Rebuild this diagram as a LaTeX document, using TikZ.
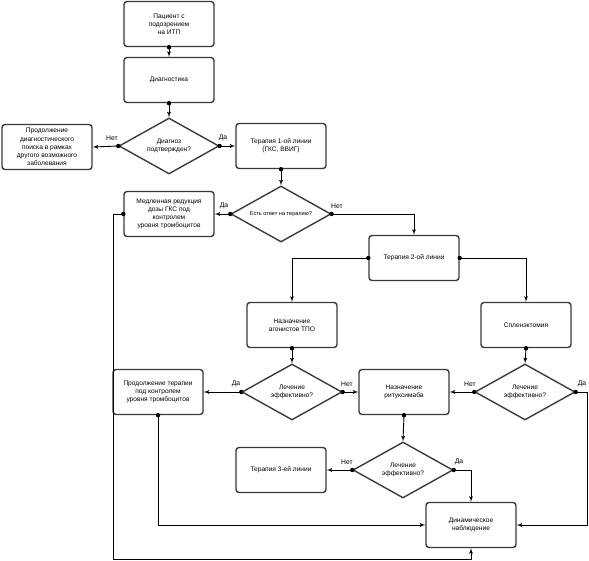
\documentclass[tikz,border=0pt]{standalone}
\usepackage{fontspec}
\setmainfont{Liberation Sans}
\usepackage{tikz}
\usetikzlibrary{arrows,shapes.geometric}
\definecolor{edge}{HTML}{3A3A3A}
\tikzstyle{line} = [draw, line width=0.9pt, -latex']
\tikzstyle{block} = [draw=edge, line width=1.4pt, rounded corners=3pt, minimum width=90pt, minimum height=45pt, align=center, inner sep=1pt, font=\fontsize{6.6}{8.2}\selectfont]
\tikzstyle{decision} = [draw=edge, line width=1.4pt, diamond, aspect=1.8, minimum width=100pt, minimum height=56pt, inner sep=0pt, align=center, font=\fontsize{6.6}{8.2}\selectfont]
\tikzstyle{answer} = [font=\fontsize{6.8}{8}\selectfont, inner sep=0pt]

\begin{document}
\begin{tikzpicture}[x=1pt,y=-1pt]
    \useasboundingbox (0,0) rectangle (589,561);

        \node[block] (pat) at (169, 24) {Пациент с\\подозрением\\на ИТП};
        \node[block] (diag) at (169, 80) {Диагностика};
        \node[decision] (q1) at (169, 146) {Диагноз\\подтвержден?};
        \node[block] (search) at (47, 147) {Продолжение\\диагностического\\поиска в рамках\\другого возможного\\заболевания};
        \node[block] (ther1) at (281, 146) {Терапия 1-ой линии\\(ГКС, ВВИГ)};
        \node[decision, font=\fontsize{5.6}{7}\selectfont] (q2) at (281, 214) {Есть ответ на терапию?};
        \node[block] (slow) at (169, 214) {Медленная редукция\\дозы ГКС под\\контролем\\уровня тромбоцитов};
        \node[block] (ther2) at (414, 258) {Терапия 2-ой линии};
        \node[block] (tpo) at (292, 325) {Назначение\\агонистов ТПО};
        \node[block] (splen) at (526, 325) {Спленэктомия};
        \node[decision] (q3) at (292, 392) {Лечение\\эффективно?};
        \node[block] (cont) at (158, 392) {Продолжение терапии\\под контролем\\уровня тромбоцитов};
        \node[block] (ritux) at (404, 392) {Назначение\\ритуксимаба};
        \node[decision] (q4) at (525, 392) {Лечение\\эффективно?};
        \node[decision] (q5) at (403, 470) {Лечение\\эффективно?};
        \node[block] (ther3) at (281, 470) {Терапия 3-ей линии};
        \node[block] (obs) at (471, 525) {Динамическое\\наблюдение};

        % answers
        \node[answer] (q1no) at (112, 138) {Нет};
        \node[answer] (q1yes) at (223, 138) {Да};
        \node[answer] (q2yes) at (224, 206) {Да};
        \node[answer] (q2no) at (337, 206) {Нет};
        \node[answer] (q3yes) at (236, 384) {Да};
        \node[answer] (q3no) at (347, 384) {Нет};
        \node[answer] (q4no) at (470, 384) {Нет};
        \node[answer] (q4yes) at (582, 384) {Да};
        \node[answer] (q5no) at (347, 462) {Нет};
        \node[answer] (q5yes) at (459, 462) {Да};

    \coordinate (q4r) at (587, 392);
    \coordinate (slowl) at (113, 214);
    \coordinate (bottom) at (113, 559);

    \path[line] (pat.south) -- (diag.north);
    \path[line] (diag.south) -- (q1.north);
    \path[line] (q1.west) -- (search.east);
    \path[line] (q1.east) -- (ther1.west);
    \path[line] (ther1.south) -- (q2.north);
    \path[line] (q2.west) -- (slow.east);
    \path[line] (q2.east) -| (ther2.north);
    \path[line] (ther2.west) -| (tpo.north);
    \path[line] (ther2.east) -| (splen.north);
    \path[line] (tpo.south) -- (q3.north);
    \path[line] (splen.south) -- (q4.north);
    \path[line] (q3.west) -- (cont.east);
    \path[line] (q3.east) -- (ritux.west);
    \path[line] (q4.west) -- (ritux.east);
    \path[line] (q4.east) -- (q4r) |- (obs.east);
    \path[line] (ritux.south) -- (q5.north);
    \path[line] (q5.west) -- (ther3.east);
    \path[line] (q5.east) -| (obs.north);
    \path[line] (cont.south) |- (obs.west);
    \path[line] (slow.west) -- (slowl) -- (bottom) -| (obs.south);

    \foreach \p in {pat.south, diag.south, q1.west, q1.east, ther1.south, q2.west, q2.east,
        ther2.west, ther2.east, tpo.south, splen.south, q3.west, q3.east, q4.west, q4.east,
        ritux.south, q5.west, q5.east, cont.south, slow.west}
        \fill (\p) circle (2.2pt);

    \end{tikzpicture}
\end{document}
